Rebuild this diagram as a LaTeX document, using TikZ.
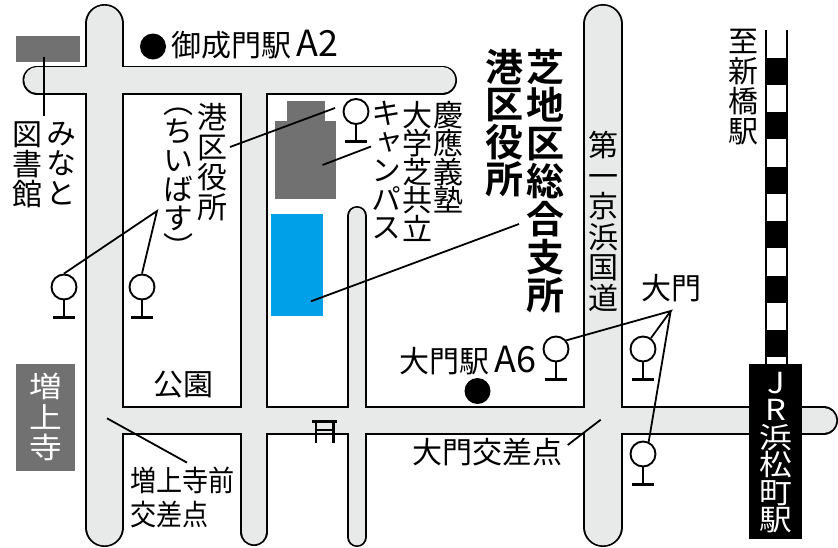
\documentclass[tikz,border=0pt]{standalone}
\usepackage{fontspec}
\newfontfamily\cjk{Noto Sans CJK JP}
\newfontfamily\cjkn[FakeStretch=0.9]{Noto Sans CJK JP}
\newfontfamily\cjkv[RawFeature=+vert]{Noto Sans CJK JP}
\newfontfamily\cjkvw[RawFeature=+vert,FakeStretch=1.13]{Noto Sans CJK JP}
\newfontfamily\cjkvb[RawFeature=+vert]{Noto Sans CJK JP Bold}
\definecolor{roadfill}{HTML}{E8EAE9}
\definecolor{bldgray}{HTML}{717171}
\definecolor{bldblue}{HTML}{00A0E9}
\tikzset{
  x=1pt,y=-1pt,
  vlab/.style={inner sep=0pt,anchor=north,align=center,text=black,font=\cjkv\fontsize{30}{#1}\selectfont},
  vlab/.default=30,
  vlabs/.style={inner sep=0pt,anchor=north,align=center,text=black,font=\cjkv\fontsize{30}{28.5}\selectfont},
  vbold/.style={inner sep=0pt,anchor=north,align=center,font=\cjkvb\fontsize{38}{#1}\selectfont},
  vwhite/.style={inner sep=0pt,anchor=north,align=center,text=white,font=\cjkvw\fontsize{29}{#1}\selectfont},
  hlab/.style={inner sep=0pt,anchor=base west,font=\cjk\fontsize{30}{30}\selectfont},
  hnarrow/.style={inner sep=0pt,anchor=base west,font=\cjkn\fontsize{29}{30}\selectfont},
  leader/.style={draw=black,line width=1.8pt},
  stopc/.style={circle,draw=black,line width=1.9pt,fill=white,minimum size=25pt,inner sep=0pt},
  stem/.style={draw=black,line width=2.8pt},
  stopbase/.style={draw=black,line width=3pt},
  dotmark/.style={circle,fill=black,minimum size=26pt,inner sep=0pt},
  bldg/.style={fill=bldgray},
}
\newcommand\busstop[2]{%
  \node[stopc] (#1) at (#2) {};
  \draw[stem] (#1.south) -- ++(0,17) coordinate (#1b);
  \draw[stopbase] ([xshift=-11pt]#1b) -- ([xshift=11pt]#1b);
}
\newcommand\roadpaths[1]{%
  \draw[line cap=round,#1,line width=39pt-\rd] (104.5,23.5) -- (104.5,527.5);
  \draw[line cap=round,#1,line width=29pt-\rd] (37,80) -- (442.5,80);
  \draw[line cap=round,#1,line width=28pt-\rd] (254,80) -- (254,532);
  \draw[line cap=round,#1,line width=20pt-\rd] (357,216) -- (357,537);
  \draw[line cap=round,#1,line width=40pt-\rd] (603,24) -- (603,527);
  \draw[line cap=round,#1,line width=29pt-\rd] (104.5,420.5) -- (823.5,420.5);
}
\newcommand\wlat[1]{\scalebox{1.2}{#1}}
\begin{document}
\begin{tikzpicture}
\useasboundingbox (0,0) rectangle (838,547);
\fill[white] (0,0) rectangle (838,547);
% buildings behind
\fill[bldg] (16,36) rectangle (80,62);
% roads
\def\rd{0pt}\roadpaths{draw=black}
\def\rd{3.4pt}\roadpaths{draw=roadfill}
% buildings
\fill[bldg] (287,101) rectangle (325,125);
\fill[bldg] (275,121) rectangle (336,199);
\fill[bldblue] (271,214) rectangle (323,316);
\fill[bldg] (16,364) rectangle (75,471);
% railway
\draw[black,line width=23pt] (776,30) -- (776,364);
\draw[white,line width=19pt,dash pattern=on 27.5pt off 27pt] (776,30) -- (776,364);
\fill[black] (749,364) rectangle (802,539);
% stations
\node[dotmark] (mita) at (153,46.5) {};
\node[dotmark] (a6) at (477.5,391) {};
% bus stops
\busstop{s1}{64,287}
\busstop{s2}{142,287}
\busstop{s3}{356,111.5}
\busstop{s4}{556,349}
\busstop{s5}{643,349}
\busstop{s6}{643,454}
% torii
\draw[line width=2.6pt] (312,421.7) -- (337,421.7);
\draw[line width=2pt] (316,429.7) -- (333,429.7);
\draw[line width=2.4pt] (316,421.7) -- (316,442.7);
\draw[line width=2.4pt] (333.3,421.7) -- (333.3,442.7);
% labels
\node[hlab] (lmita) at (171,56.5) {御成門駅\,\wlat{A2}};
\node[vlab] (lminato) at (61,122) {み\\な\\と};
\node[vlab] (lzuso) at (27.5,122) {図\\書\\館};
\node[vlab=29] (lchii) at (178,108) {（\\ち\\い\\ば\\す\\）};
\node[vlab] (lkuyaku) at (212.5,103) {港\\区\\役\\所};
\node[vlabs] (lkeio) at (448.5,101) {慶\\應\\義\\塾};
\node[vlabs] (lgaku) at (417,101) {大\\学\\芝\\共\\立};
\node[vlabs] (lcamp) at (386,101) {キ\\ャ\\ン\\パ\\ス};
\node[vbold=38] (lshiba) at (545,49) {芝\\地\\区\\総\\合\\支\\所};
\node[vbold=37.5] (lminatoku) at (504,49) {港\\区\\役\\所};
\node[vlab=30.6] (lkeihin) at (603,131) {第\\一\\京\\浜\\国\\道};
\node[vlab] (lshin) at (743,29) {至\\新\\橋\\駅};
\node[hlab] (ldaimon) at (641,299.5) {大門};
\node[hlab] (la6) at (399,372.5) {大門駅\,\wlat{A6}};
\node[hlab] (lkoen) at (153,395.5) {公園};
\node[hlab] (lkousa) at (412,463.5) {大門交差点};
\node[hnarrow] (lzm) at (130,491.5) {増上寺前};
\node[hnarrow] (lkp) at (130,525.5) {交差点};
\node[vwhite=30.5] (lzojo) at (46,373) {増\\上\\寺};
\node[vwhite=27.5] (ljr) at (776,372) {J\\R\\浜\\松\\町\\駅};
% leaders
\coordinate (a1) at (44,56.5); \coordinate (a2) at (44,116);
\draw[leader] (a1) -- (a2);
\coordinate (b1) at (230,147); \coordinate (b2) at (335,108);
\draw[leader] (b1) -- (b2);
\coordinate (c1) at (322.5,165); \coordinate (c2) at (371,146.5);
\draw[leader] (c1) -- (c2);
\coordinate (d1) at (311,301.3); \coordinate (d2) at (519,224);
\draw[leader] (d1) -- (d2);
\coordinate (chiapex) at (157,211);
\draw[leader] (s1.north) -- (chiapex) -- (s2.north);
\coordinate (daiapex) at (670.7,311);
\draw[leader] (s4.40) -- (daiapex) -- (s5.54);
\draw[leader] (daiapex) -- (s6.65);
\coordinate (e1) at (107,418.3); \coordinate (e2) at (187,462.6);
\draw[leader] (e1) -- (e2);
\coordinate (f1) at (567.7,445); \coordinate (f2) at (600.7,419.7);
\draw[leader] (f1) -- (f2);
\end{tikzpicture}
\end{document}
